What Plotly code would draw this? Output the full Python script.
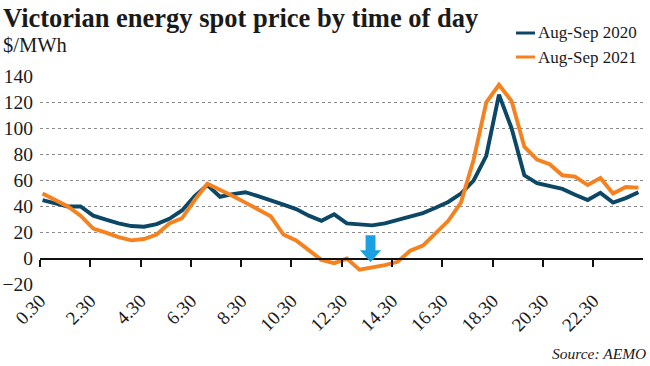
import plotly.graph_objects as go

# ---- data ----
times = ["0.30", "1.00", "1.30", "2.00", "2.30", "3.00", "3.30", "4.00", "4.30", "5.00",
         "5.30", "6.00", "6.30", "7.00", "7.30", "8.00", "8.30", "9.00", "9.30", "10.00",
         "10.30", "11.00", "11.30", "12.00", "12.30", "13.00", "13.30", "14.00", "14.30", "15.00",
         "15.30", "16.00", "16.30", "17.00", "17.30", "18.00", "18.30", "19.00", "19.30", "20.00",
         "20.30", "21.00", "21.30", "22.00", "22.30", "23.00", "23.30", "24.00"]

price_2020 = [45, 42.5, 40, 40, 33, 30, 27, 25, 24.5, 26.5,
              30.5, 37, 48, 56.5, 47.5, 49.5, 51, 48, 45, 41.5,
              38, 33, 29, 34, 27, 26, 25.5, 27, 29.5, 32,
              35, 39, 43.5, 50, 60, 79, 126, 100, 64, 58,
              56, 53.5, 49, 45, 50.5, 43, 46.5, 51]

price_2021 = [50, 45, 40, 33, 23, 20, 16.5, 14, 15, 18.5,
              27, 31, 45, 57.5, 53, 48, 43, 38, 32.5, 18.5,
              14, 6.5, -1, -3.5, 0, -8.5, -7, -5, -2.5, 6,
              10, 19, 29, 43, 76, 120, 133.5, 121, 86, 76,
              72.5, 64, 63, 56.5, 62, 50, 55, 54.5]

tick_labels = ["0.30", "2.30", "4.30", "6.30", "8.30", "10.30",
               "12.30", "14.30", "16.30", "18.30", "20.30", "22.30"]
y_ticks = [-20, 0, 20, 40, 60, 80, 100, 120, 140]

series_names = ["Aug-Sep 2020", "Aug-Sep 2021"]
title_text = "Victorian energy spot price by time of day"
unit_text = "$/MWh"
source_text = "Source: AEMO"

# ---- styling ----
BLUE = "#0c4866"
ORANGE = "#f5821f"
ARROW = "#1ba1e2"
TXT = "#1a1a1a"
SERIF = "Liberation Serif, Times New Roman, serif"

W, H = 650, 366
ML, MR, MT, MB = 40, 7, 76, 81
PW, PH = W - ML - MR, H - MT - MB

idx = list(range(len(times)))
x_range = [-0.2, 47.36]
y_range = [-20.3, 140.3]
tick_step = 3.967
tickvals = [x_range[0] + tick_step * k for k in range(len(tick_labels))]


def px_x(p):
    return (p - ML) / PW


def px_y(p):
    return (H - MB - p) / PH


fig = go.Figure()
fig.add_trace(go.Scatter(x=idx, y=price_2020, mode="lines", name=series_names[0],
                         line=dict(color=BLUE, width=3.9), showlegend=False))
fig.add_trace(go.Scatter(x=idx, y=price_2021, mode="lines", name=series_names[1],
                         line=dict(color=ORANGE, width=3.9), showlegend=False))
# helper trace so the zero-line axis is drawn
fig.add_trace(go.Scatter(x=[None], y=[None], xaxis="x2", yaxis="y", showlegend=False,
                         hoverinfo="skip"))

zero_pos = (0 - y_range[0]) / (y_range[1] - y_range[0])

fig.update_layout(
    width=W, height=H,
    margin=dict(l=ML, r=MR, t=MT, b=MB, autoexpand=False),
    paper_bgcolor="white", plot_bgcolor="white",
    font=dict(family=SERIF, color=TXT),
    xaxis=dict(range=x_range, tickmode="array", tickvals=tickvals, ticktext=tick_labels,
               tickangle=-45, showgrid=False, zeroline=False, showline=False, ticks="",
               automargin=False,
               tickfont=dict(size=19, family=SERIF, color=TXT)),
    xaxis2=dict(range=x_range, overlaying="x", anchor="free", position=zero_pos,
                side="bottom", tickmode="array", tickvals=tickvals, showticklabels=False,
                showgrid=False, zeroline=False, showline=True, linecolor="#111",
                linewidth=2, ticks="outside", ticklen=7, tickwidth=2, tickcolor="#111",
                automargin=False),
    yaxis=dict(range=y_range, tickmode="array", tickvals=y_ticks,
               showgrid=True, gridcolor="#8a8a8a", gridwidth=1, griddash="dot",
               zeroline=False, showline=False, ticks="", ticklabelstandoff=6,
               automargin=False,
               tickfont=dict(size=19.5, family=SERIF, color=TXT)),
    showlegend=False,
)

# down arrow marker (lowest 2021 price)
ax = 25.87
hw_shaft, hw_head = 0.39, 0.83
y_top, y_base, y_tip = 17.9, 6.4, -2.8
path = (f"M {ax - hw_shaft} {y_top} L {ax + hw_shaft} {y_top} L {ax + hw_shaft} {y_base} "
        f"L {ax + hw_head} {y_base} L {ax} {y_tip} L {ax - hw_head} {y_base} "
        f"L {ax - hw_shaft} {y_base} Z")
fig.add_shape(type="path", path=path, xref="x", yref="y", fillcolor=ARROW,
              line=dict(width=0), layer="above")

# title & unit
fig.add_annotation(text=f"<b>{title_text}</b>", x=px_x(1), y=px_y(1), xref="paper", yref="paper",
                   xanchor="left", yanchor="top", showarrow=False,
                   font=dict(size=26.5, family=SERIF, color=TXT))
fig.add_annotation(text=unit_text, x=px_x(1), y=px_y(32), xref="paper", yref="paper",
                   xanchor="left", yanchor="top", showarrow=False,
                   font=dict(size=20.5, family=SERIF, color=TXT))

# legend (manual)
for name, col, cy in [(series_names[0], BLUE, 33), (series_names[1], ORANGE, 57)]:
    fig.add_shape(type="line", xref="paper", yref="paper",
                  x0=px_x(516), x1=px_x(535), y0=px_y(cy), y1=px_y(cy),
                  line=dict(color=col, width=3))
    fig.add_annotation(text=name, x=px_x(536), y=px_y(cy), xref="paper", yref="paper",
                       xanchor="left", yanchor="middle", showarrow=False,
                       font=dict(size=17, family=SERIF, color=TXT))

# source
fig.add_annotation(text=f"<i>{source_text}</i>", x=px_x(648), y=px_y(364), xref="paper",
                   yref="paper", xanchor="right", yanchor="bottom", showarrow=False,
                   font=dict(size=15.5, family=SERIF, color=TXT))

fig.write_html("out.html", config={"displayModeBar": False},
               post_script="document.body.style.margin='0';document.body.style.padding='0';")
